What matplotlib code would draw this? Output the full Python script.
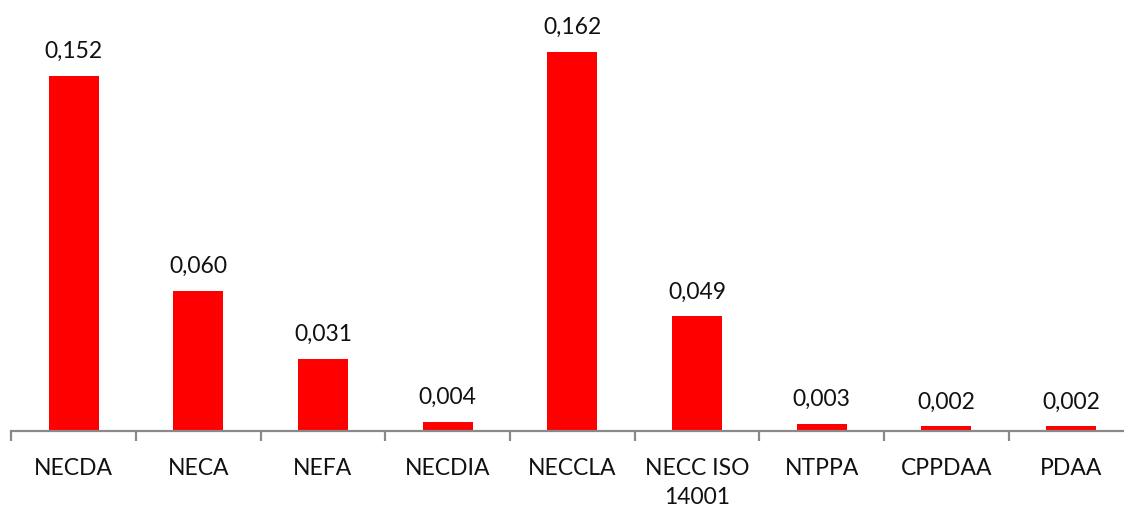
import matplotlib
matplotlib.use("Agg")
import matplotlib.pyplot as plt

categories = ["NECDA", "NECA", "NEFA", "NECDIA", "NECCLA", "NECC ISO\n14001",
              "NTPPA", "CPPDAA", "PDAA"]
values = [0.152, 0.060, 0.031, 0.004, 0.162, 0.049, 0.003, 0.002, 0.002]
value_labels = ["0,152", "0,060", "0,031", "0,004", "0,162", "0,049",
                "0,003", "0,002", "0,002"]

plt.rcParams["font.family"] = ["Lato", "DejaVu Sans"]

W, H = 1124, 508
fig = plt.figure(figsize=(W / 100, H / 100), dpi=100)
cat_w = 124.67
left_px, base_px = 11.3, 431
ax = fig.add_axes([left_px / W, (H - base_px) / H, 9 * cat_w / W, base_px / H])

x = list(range(len(categories)))
ax.bar(x, values, width=0.4, color="#ff0000", zorder=2)
ax.set_xlim(-0.5, len(categories) - 0.5)
ax.set_ylim(0, 0.1843)

for xi, v, lab in zip(x, values, value_labels):
    ax.annotate(lab, (xi, v), xytext=(0, 10), textcoords="offset points",
                ha="center", va="bottom", fontsize=16.5, color="#111111")

for s in ["top", "right", "left"]:
    ax.spines[s].set_visible(False)
ax.spines["bottom"].set_color("#898989")
ax.spines["bottom"].set_linewidth(1.6)
ax.set_yticks([])

ax.set_xticks([i - 0.5 for i in range(len(categories) + 1)])
ax.set_xticklabels([])
ax.tick_params(axis="x", length=7, width=1.6, color="#898989", direction="out")
ax.set_xticks(x, minor=True)
ax.set_xticklabels(categories, minor=True, fontsize=16.5, color="#111111",
                   linespacing=1.45)
ax.tick_params(axis="x", which="minor", length=0, pad=19.5)

fig.savefig("out.png", dpi=100)
